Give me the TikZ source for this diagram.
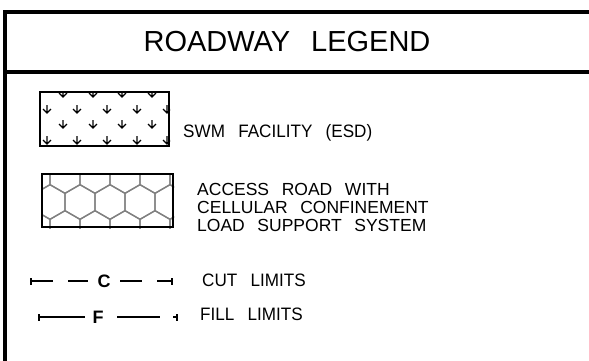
\documentclass[tikz,border=0pt]{standalone}
\usepackage{fontspec}
\setmainfont[WordSpace=2.6]{Liberation Sans}
\newfontfamily\legendfont[FakeStretch=0.95,WordSpace=2.8]{Liberation Sans}
\usetikzlibrary{positioning}

\tikzset{
    frameline/.style={line width=4pt},
    legendbox/.style={draw, line width=2pt, inner sep=0pt},
    legtext/.style={anchor=base west, inner sep=0pt, font=\legendfont\fontsize{18}{18}\selectfont},
    roadtext/.style={legtext, font=\fontsize{17.5}{18}\selectfont},
    limitline/.style={line width=1.6pt},
    limitmark/.style={inner sep=1pt, font=\fontsize{18}{18}\selectfont\bfseries},
    marsh/.pic={\draw[line width=1.2pt] (0,-5) -- (0,3) (-4,-1) -- (0,3) -- (4,-1);},
    hexcell/.pic={\draw (0,-17.32) -- (15,-8.66) -- (15,8.66) -- (0,17.32) -- (-15,8.66) -- (-15,-8.66) -- cycle;}
}

\begin{document}
\begin{tikzpicture}[x=1pt,y=-1pt]
    \useasboundingbox (0,0) rectangle (589,360);
    \draw[frameline] (5,365) -- (5,12) -- (595,12);
    \draw[frameline] (5,72) -- (595,72);
    \node[font=\fontsize{29}{29}\selectfont] (title) at (287,42) {ROADWAY LEGEND};

    \node[legendbox, minimum width=129pt, minimum height=54pt] (swm) at (104.5,119) {};
    \begin{scope}
        \clip (swm.south west) rectangle (swm.north east);
        \foreach \y in {94,125}
            \foreach \x in {63,93,122,152}
                \pic at (\x,\y) {marsh};
        \foreach \y in {110,141}
            \foreach \x in {47,77,107,137,167}
                \pic at (\x,\y) {marsh};
    \end{scope}
    \node[legtext] (swmtext) at (183,137) {SWM FACILITY (ESD)};

    \node[legendbox, minimum width=131pt, minimum height=53pt] (road) at (107.5,200.5) {};
    \begin{scope}[draw=gray, line width=1.3pt]
        \clip (road.south west) rectangle (road.north east);
        \foreach \x in {35,65,95,125,155,185} {
            \pic at (\x,176) {hexcell};
            \pic at (\x,228) {hexcell};
        }
        \foreach \x in {50,80,110,140,170}
            \pic at (\x,202) {hexcell};
    \end{scope}
    \node[legendbox, minimum width=131pt, minimum height=53pt] at (road) {};
    \node[roadtext] (roadtext1) at (197,195) {ACCESS ROAD WITH};
    \node[roadtext] (roadtext2) at (197,213) {CELLULAR CONFINEMENT};
    \node[roadtext] (roadtext3) at (197,231) {LOAD SUPPORT SYSTEM};

    \coordinate (c0) at (31,281);
    \coordinate (c1) at (53,281);
    \coordinate (c2) at (68,281);
    \coordinate (c3) at (88,281);
    \node[limitmark] (cm) at (104,281) {C};
    \coordinate (c4) at (120,281);
    \coordinate (c5) at (142,281);
    \coordinate (c6) at (157,281);
    \coordinate (c7) at (172,281);
    \draw[limitline]
        (c0) -- (c1) (c2) -- (c3) (c4) -- (c5) (c6) -- (c7)
        ([yshift=-3.5pt]c0) -- ([yshift=3.5pt]c0)
        ([yshift=-3.5pt]c7) -- ([yshift=3.5pt]c7);
    \node[legtext] (cuttext) at (202,286) {CUT LIMITS};

    \coordinate (f0) at (39,317);
    \coordinate (f1) at (85,317);
    \node[limitmark] (fm) at (98,317) {F};
    \coordinate (f2) at (117,317);
    \coordinate (f3) at (160,317);
    \coordinate (f4) at (173,317);
    \coordinate (f5) at (177,317);
    \draw[limitline]
        (f0) -- (f1) (f2) -- (f3) (f4) -- (f5)
        ([yshift=-3.5pt]f0) -- ([yshift=3.5pt]f0)
        ([yshift=-3.5pt]f5) -- ([yshift=3.5pt]f5);
    \node[legtext] (filltext) at (200,320) {FILL LIMITS};
\end{tikzpicture}
\end{document}
